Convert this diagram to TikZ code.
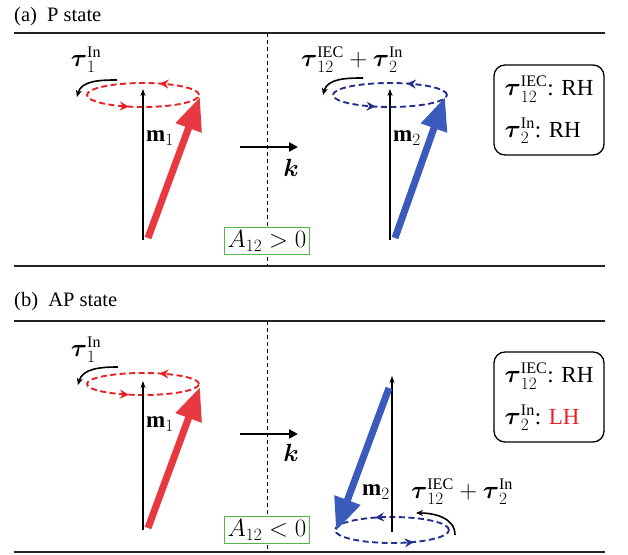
\documentclass[tikz,border=0pt]{standalone}
\usepackage{amsmath}
\usepackage{fontspec}
\setmainfont{Liberation Serif}
\usetikzlibrary{arrows.meta,decorations.markings,positioning}
\definecolor{spred}{RGB}{232,56,64}
\definecolor{sploopred}{RGB}{236,30,36}
\definecolor{spblue}{RGB}{58,90,188}
\definecolor{sploopblue}{RGB}{36,48,142}
\definecolor{spgreen}{RGB}{84,182,74}
\definecolor{sprule}{RGB}{35,35,35}
\tikzset{
  panelrule/.style={draw=sprule, line width=2pt},
  midline/.style={draw=black, line width=0.9pt, dash pattern=on 4pt off 3pt},
  spinred/.style={draw=spred, line width=7pt, -{Triangle[width=26pt,length=33pt]}},
  spinblue/.style={draw=spblue, line width=7pt, -{Triangle[width=26pt,length=33pt]}},
  axisarr/.style={draw=black, line width=1.3pt, -{Stealth[length=7pt,width=5pt]}},
  kvec/.style={draw=black, line width=2.2pt, -{Triangle[length=9pt,width=9pt]}},
  torqarr/.style={draw=black, line width=1.6pt, -{Stealth[length=7pt,width=6pt]}},
  precloop/.style n args={3}{draw=#1, line width=1.9pt, dash pattern=on 6pt off 3.5pt,
    decoration={markings,
      mark=at position #2 with {\arrow{Stealth[length=9pt,width=9pt]}},
      mark=at position #3 with {\arrow{Stealth[length=9pt,width=9pt]}}},
    postaction={decorate, solid}},
  statebox/.style={draw=black, line width=1.3pt, rounded corners=11pt, minimum width=110pt,
    minimum height=90pt, align=left, inner xsep=8pt, font=\fontsize{23}{42}\selectfont},
  signbox/.style={draw=spgreen, line width=1.3pt, fill=white, inner sep=3pt, font=\fontsize{23}{26}\selectfont},
  paneltitle/.style={anchor=west, inner sep=0pt, font=\fontsize{20.5}{24}\selectfont},
  lbl/.style={inner sep=0pt, font=\fontsize{23}{26}\selectfont}
}
\begin{document}
\begin{tikzpicture}[x=1pt, y=1pt]
  \useasboundingbox (0,0) rectangle (628,554);
  % (a) P state
  \node[paneltitle] (titleA) at (14,537) {(a)~~P state};
  \coordinate (ruleAtl) at (14,521);
  \coordinate (ruleAtr) at (605,521);
  \coordinate (ruleAbl) at (14,288);
  \coordinate (ruleAbr) at (605,288);
  \draw[panelrule] (ruleAtl) -- (ruleAtr);
  \draw[panelrule] (ruleAbl) -- (ruleAbr);
  \coordinate (midAt) at (267,521);
  \coordinate (midAb) at (267,288);
  \draw[midline] (midAt) -- (midAb);

  \coordinate (loopA1) at (143,459);
  \draw[precloop={sploopred}{0.18}{0.69}] (loopA1) ellipse [x radius=56, y radius=12];
  \coordinate (axA1bot) at (143,314);
  \coordinate (axA1top) at (143,465);
  \draw[axisarr] (axA1bot) -- (axA1top);
  \coordinate (mA1s) at (148,316);
  \coordinate (mA1e) at (200,457);
  \draw[spinred] (mA1s) -- (mA1e);
  \node[lbl, anchor=west] (labmA1) at (146,416) {$\mathbf{m}_1$};
  \node[lbl] (tauA1) at (86,494) {$\boldsymbol{\tau}_1^{\mathrm{In}}$};
  \coordinate (torA1s) at (117,474);
  \coordinate (torA1e) at (77,457);
  \draw[torqarr] (torA1s) to[out=180, in=75] (torA1e);

  \coordinate (kAs) at (240,407);
  \coordinate (kAe) at (298,407);
  \draw[kvec] (kAs) -- (kAe);
  \node[lbl] (labkA) at (291,386) {$\boldsymbol{k}$};
  \node[signbox] (signA) at (267,313) {$A_{12} > 0$};

  \coordinate (loopA2) at (390,459);
  \draw[precloop={sploopblue}{0.18}{0.69}] (loopA2) ellipse [x radius=57, y radius=12];
  \coordinate (axA2bot) at (390,314);
  \coordinate (axA2top) at (390,465);
  \draw[axisarr] (axA2bot) -- (axA2top);
  \coordinate (mA2s) at (395,316);
  \coordinate (mA2e) at (445,457);
  \draw[spinblue] (mA2s) -- (mA2e);
  \node[lbl, anchor=west] (labmA2) at (393,416) {$\mathbf{m}_2$};
  \node[lbl] (tauA2) at (352,494) {$\boldsymbol{\tau}_{12}^{\mathrm{IEC}}+\boldsymbol{\tau}_2^{\mathrm{In}}$};
  \coordinate (torA2s) at (363,476);
  \coordinate (torA2e) at (323,459);
  \draw[torqarr] (torA2s) to[out=180, in=75] (torA2e);
  \node[statebox] (stateA) at (549,444) {$\boldsymbol{\tau}_{12}^{\mathrm{IEC}}$: RH\\$\boldsymbol{\tau}_{2}^{\mathrm{In}}$: RH};

  % (b) AP state
  \node[paneltitle] (titleB) at (14,252) {(b)~~AP state};
  \coordinate (ruleBtl) at (14,233);
  \coordinate (ruleBtr) at (605,233);
  \coordinate (ruleBbl) at (14,2);
  \coordinate (ruleBbr) at (605,2);
  \draw[panelrule] (ruleBtl) -- (ruleBtr);
  \draw[panelrule] (ruleBbl) -- (ruleBbr);
  \coordinate (midBt) at (267,233);
  \coordinate (midBb) at (267,2);
  \draw[midline] (midBt) -- (midBb);

  \coordinate (loopB1) at (143,170);
  \draw[precloop={sploopred}{0.18}{0.69}] (loopB1) ellipse [x radius=56, y radius=11];
  \coordinate (axB1bot) at (143,24);
  \coordinate (axB1top) at (143,173);
  \draw[axisarr] (axB1bot) -- (axB1top);
  \coordinate (mB1s) at (148,26);
  \coordinate (mB1e) at (200,167);
  \draw[spinred] (mB1s) -- (mB1e);
  \node[lbl, anchor=west] (labmB1) at (146,130) {$\mathbf{m}_1$};
  \node[lbl] (tauB1) at (86,204) {$\boldsymbol{\tau}_1^{\mathrm{In}}$};
  \coordinate (torB1s) at (118,187);
  \coordinate (torB1e) at (78,169);
  \draw[torqarr] (torB1s) to[out=180, in=75] (torB1e);

  \coordinate (kBs) at (240,120);
  \coordinate (kBe) at (298,120);
  \draw[kvec] (kBs) -- (kBe);
  \node[lbl] (labkB) at (291,101) {$\boldsymbol{k}$};
  \node[signbox] (signB) at (267,24) {$A_{12} < 0$};

  \coordinate (loopB2) at (392,24);
  \draw[precloop={sploopblue}{0.32}{0.84}] (loopB2) ellipse [x radius=57, y radius=13];
  \coordinate (axB2bot) at (392,22);
  \coordinate (axB2top) at (392,178);
  \draw[axisarr] (axB2bot) -- (axB2top);
  \coordinate (mB2s) at (389,166);
  \coordinate (mB2e) at (336,23);
  \draw[spinblue] (mB2s) -- (mB2e);
  \node[lbl, anchor=east] (labmB2) at (390,62) {$\mathbf{m}_2$};
  \node[lbl] (tauB2) at (462,62) {$\boldsymbol{\tau}_{12}^{\mathrm{IEC}}+\boldsymbol{\tau}_2^{\mathrm{In}}$};
  \coordinate (torB2s) at (455,19);
  \coordinate (torB2e) at (416,41);
  \draw[torqarr] (torB2s) to[out=90, in=0] (torB2e);
  \node[statebox] (stateB) at (549,157) {$\boldsymbol{\tau}_{12}^{\mathrm{IEC}}$: RH\\$\boldsymbol{\tau}_{2}^{\mathrm{In}}$: \textcolor{sploopred}{LH}};
\end{tikzpicture}
\end{document}
